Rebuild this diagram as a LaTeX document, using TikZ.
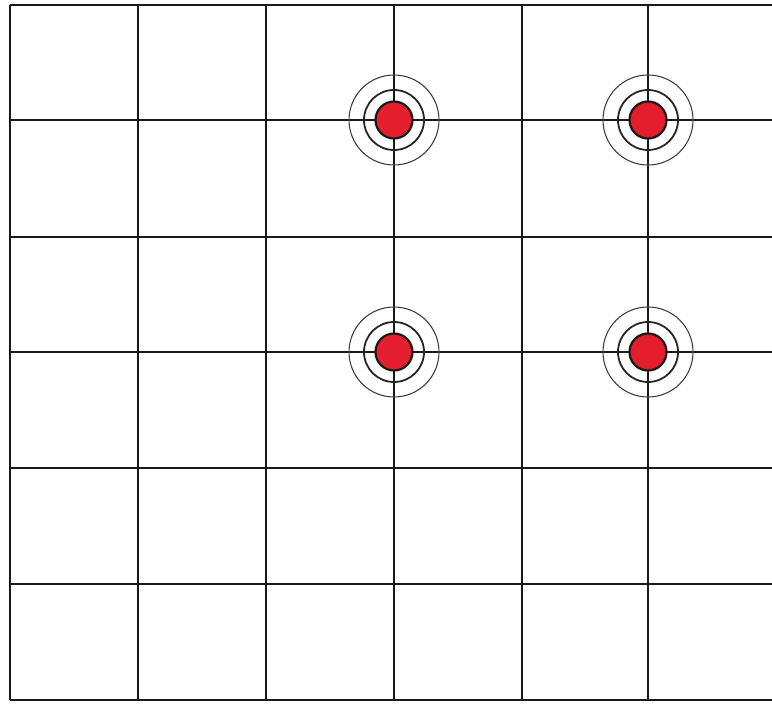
\documentclass[tikz,border=0pt]{standalone}
\usepackage{xcolor}
\definecolor{target}{RGB}{228,30,44}
\usetikzlibrary{positioning}
\tikzset{
  gridline/.style={draw=black!90,line width=1.4pt},
  hit/.style={circle,draw=black!90,fill=target,line width=1.1pt,%
    minimum size=18.5pt,inner sep=0pt},
  ring/.style={draw=black!85,line width=0.9pt},
  outerring/.style={draw=black!75,line width=0.55pt},
}

\begin{document}
\begin{tikzpicture}[x=0.5pt,y=0.5pt]
\useasboundingbox (0,0) rectangle (772,703);
% grid
\foreach \x in {10,138,266,394,522,648}
  \draw[gridline] (\x,3) -- (\x,698);
\foreach \y in {698,583,466,351,235,119,3}
  \draw[gridline] (10,\y) -- (772,\y);
% targets
\node[hit] (t1) at (394,583) {};
\node[hit] (t2) at (648,583) {};
\node[hit] (t3) at (394,351) {};
\node[hit] (t4) at (648,351) {};
\foreach \t in {t1,t2,t3,t4}{
  \draw[ring] (\t) circle[radius=15pt];
  \draw[outerring] (\t) circle[radius=22.5pt];
}
\end{tikzpicture}
\end{document}
